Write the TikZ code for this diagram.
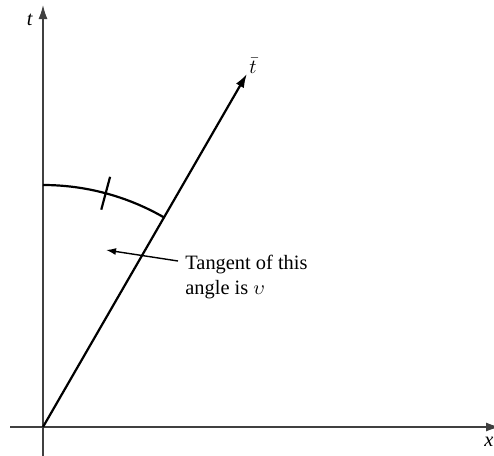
\documentclass[tikz,border=0pt]{standalone}
\usepackage{fontspec}
\setmainfont{Liberation Serif}
\usetikzlibrary{arrows.meta,calc}
\begin{document}
\begin{tikzpicture}[x=0.5pt,y=-0.5pt,
  axis/.style={draw=black!75,line width=0.7pt},
  bigtip/.style={-{Latex[length=7pt,width=4.5pt]}},
  lbl/.style={inner sep=0pt,font=\fontsize{10.2}{12.5}\selectfont}]
\useasboundingbox (0,0) rectangle (494,456);
\coordinate (O) at (43,427);
\coordinate (xs) at (10,427);
\coordinate (xe) at (500,427);
\coordinate (ts) at (43,456);
\coordinate (te) at (43,5);
\draw[axis,bigtip] (xs) -- (xe);
\draw[axis,bigtip] (ts) -- (te);
\draw[line width=1.1pt,bigtip] (O) -- ++(-60:408) coordinate (tbe);
\node[lbl] (tl) at (30,20) {\textit{t}};
\node[lbl] (xl) at (489,442) {\textit{x}};
\node[lbl] (tbl) at (253,66) {$\bar{t}$};
% arc
\draw[line width=1.1pt] (43,185) arc[start angle=90,end angle=60,x radius=242,y radius=-242];
\draw[line width=1.1pt] ($(O)+(0.259*259,-0.966*259)$) -- ($(O)+(0.259*225,-0.966*225)$);
\node[lbl,anchor=north west,align=left] (txt) at (185,255) {Tangent of this\\angle is $\upsilon$};
\draw[line width=0.7pt,-{Latex[length=5pt,width=3.5pt]}] (178,261) -- (106,250);
\end{tikzpicture}
\end{document}
